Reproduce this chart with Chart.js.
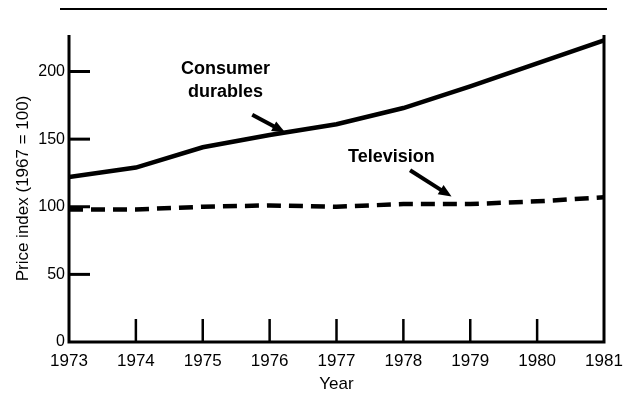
<!DOCTYPE html>
<html>
<head>
<meta charset="utf-8">
<script src="https://cdn.jsdelivr.net/npm/chart.js@4"></script>
<style>
  html, body { margin: 0; padding: 0; background: #fff; }
  #wrap { width: 625px; height: 405px; position: relative; }
</style>
</head>
<body>
<div id="wrap"><canvas id="chart" width="625" height="405"></canvas></div>
<script>
const years = [1973, 1974, 1975, 1976, 1977, 1978, 1979, 1980, 1981];
const consumerDurables = [122, 129, 144, 153, 161, 173, 189, 206, 223];
const television = [98, 98, 100, 101, 100, 102, 102, 104, 107];
const yTicks = [0, 50, 100, 150, 200];

const FONT = "'Liberation Sans', Arial, sans-serif";

function toPoints(ys) {
  return years.map((x, i) => ({ x, y: ys[i] }));
}

function arrow(ctx, x1, y1, x2, y2) {
  const ang = Math.atan2(y2 - y1, x2 - x1);
  const head = 14;
  ctx.beginPath();
  ctx.moveTo(x1, y1);
  ctx.lineTo(x2 - Math.cos(ang) * head * 0.8, y2 - Math.sin(ang) * head * 0.8);
  ctx.lineWidth = 4;
  ctx.stroke();
  ctx.beginPath();
  ctx.moveTo(x2, y2);
  ctx.lineTo(x2 - head * Math.cos(ang - 0.4), y2 - head * Math.sin(ang - 0.4));
  ctx.lineTo(x2 - head * Math.cos(ang + 0.4), y2 - head * Math.sin(ang + 0.4));
  ctx.closePath();
  ctx.fill();
}

// axes frame, inward ticks, labels and arrows
const decor = {
  id: 'decor',
  afterDatasetsDraw(chart) {
    const { ctx, chartArea: a, scales: { x, y } } = chart;
    ctx.save();
    ctx.strokeStyle = '#000';
    ctx.fillStyle = '#000';
    ctx.lineCap = 'butt';

    // top rule
    ctx.lineWidth = 2;
    ctx.beginPath();
    ctx.moveTo(a.left - 9, 9);
    ctx.lineTo(a.right + 3, 9);
    ctx.stroke();

    // frame: left, bottom, right
    ctx.lineWidth = 3;
    ctx.beginPath();
    ctx.moveTo(a.left, a.top);
    ctx.lineTo(a.left, a.bottom);
    ctx.lineTo(a.right, a.bottom);
    ctx.lineTo(a.right, a.top);
    ctx.stroke();

    // y ticks pointing inward
    yTicks.slice(1).forEach((v) => {
      const py = y.getPixelForValue(v);
      ctx.beginPath();
      ctx.moveTo(a.left, py);
      ctx.lineTo(a.left + 21, py);
      ctx.stroke();
    });

    // x ticks pointing up
    ctx.lineWidth = 2.5;
    years.slice(1, -1).forEach((v) => {
      const px = x.getPixelForValue(v);
      ctx.beginPath();
      ctx.moveTo(px, a.bottom);
      ctx.lineTo(px, a.bottom - 23);
      ctx.stroke();
    });

    // annotations
    ctx.font = `bold 18px ${FONT}`;
    ctx.textAlign = 'center';
    ctx.textBaseline = 'middle';
    ctx.fillText('Consumer', x.getPixelForValue(1975.34), y.getPixelForValue(201.5));
    ctx.fillText('durables', x.getPixelForValue(1975.34), y.getPixelForValue(185));
    ctx.fillText('Television', x.getPixelForValue(1977.82), y.getPixelForValue(137));

    arrow(ctx,
      x.getPixelForValue(1975.74), y.getPixelForValue(168),
      x.getPixelForValue(1976.23), y.getPixelForValue(155));
    arrow(ctx,
      x.getPixelForValue(1978.1), y.getPixelForValue(127),
      x.getPixelForValue(1978.72), y.getPixelForValue(107.5));

    ctx.restore();
  },
};

const canvas = document.querySelector('#chart');
// eslint-disable-next-line no-undef
new Chart(canvas.getContext('2d'), {
  type: 'line',
  data: {
    datasets: [
      {
        label: 'Consumer durables',
        data: toPoints(consumerDurables),
        borderColor: '#000',
        borderWidth: 4.5,
        pointRadius: 0,
        tension: 0,
      },
      {
        label: 'Television',
        data: toPoints(television),
        borderColor: '#000',
        borderWidth: 4.5,
        borderDash: [14, 8],
        pointRadius: 0,
        tension: 0,
      },
    ],
  },
  options: {
    responsive: false,
    animation: false,
    parsing: false,
    layout: { padding: { top: 35, right: 21, left: 0, bottom: 0 } },
    plugins: { legend: { display: false }, tooltip: { enabled: false } },
    scales: {
      x: {
        type: 'linear',
        min: 1973,
        max: 1981,
        grid: { display: false, drawTicks: false },
        border: { display: false },
        ticks: {
          stepSize: 1,
          padding: 9,
          color: '#000',
          font: { family: FONT, size: 17 },
          callback: (v) => String(v),
        },
        afterBuildTicks: (s) => { s.ticks = years.map((v) => ({ value: v })); },
        afterFit: (s) => {
          s.height = 63;
          s.paddingLeft = 0;
          s.paddingRight = 0;
        },
        title: {
          display: true,
          text: 'Year',
          color: '#000',
          font: { family: FONT, size: 17 },
          padding: { top: 0, bottom: 10 },
        },
      },
      y: {
        min: 0,
        max: 227,
        grid: { display: false, drawTicks: false },
        border: { display: false },
        ticks: {
          padding: 4,
          color: '#000',
          font: { family: FONT, size: 16 },
        },
        afterBuildTicks: (s) => { s.ticks = yTicks.map((v) => ({ value: v })); },
        afterFit: (s) => { s.width = 69; },
        title: {
          display: true,
          text: 'Price index (1967 = 100)',
          color: '#000',
          font: { family: FONT, size: 17 },
          padding: { top: 13, bottom: 0 },
        },
      },
    },
  },
  plugins: [decor],
});
</script>
</body>
</html>
